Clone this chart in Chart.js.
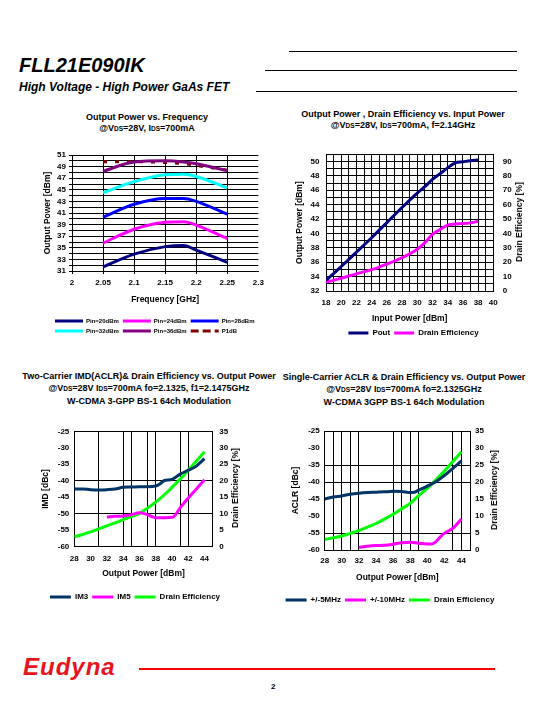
<!DOCTYPE html>
<html><head><meta charset="utf-8">
<script src="https://cdn.jsdelivr.net/npm/chart.js@4.4.1/dist/chart.umd.min.js"></script>
<style>
html,body{margin:0;padding:0;background:#fff;width:540px;height:720px;overflow:hidden;}
body{position:relative;font-family:'Liberation Sans',Arial,sans-serif;color:#000;}
.abs{position:absolute;white-space:nowrap;}
.hl{position:absolute;height:0;border-top:1px solid #000;}
.ttl{position:absolute;width:300px;text-align:center;font-weight:bold;font-size:9px;line-height:11px;white-space:nowrap;}
.ttl3{line-height:12px;}
.sb{font-size:6.5px;}
.rt{position:absolute;white-space:nowrap;font:bold 8.5px/10px 'Liberation Sans',Arial,sans-serif;transform:translate(-50%,-50%) rotate(-90deg);}
canvas{position:absolute;}
</style></head>
<body>
<div class="abs" style="left:19px;top:55px;font:italic bold 20px/20px 'Liberation Sans',Arial,sans-serif;">FLL21E090IK</div>
<div class="abs" style="left:19px;top:81px;font:italic bold 12px/12px 'Liberation Sans',Arial,sans-serif;">High Voltage - High Power GaAs FET</div>
<div class="hl" style="left:289px;top:51px;width:228px;"></div>
<div class="hl" style="left:265px;top:70px;width:252px;"></div>
<div class="hl" style="left:256px;top:91px;width:261px;"></div>

<div class="ttl" style="left:-3px;top:112px;">Output Power vs. Frequency<br>@V<span class="sb">DS</span>=28V, I<span class="sb">DS</span>=700mA</div>
<div class="ttl" style="left:253px;top:109px;">Output Power , Drain Efficiency vs. Input Power<br>@V<span class="sb">DS</span>=28V, I<span class="sb">DS</span>=700mA, f=2.14GHz</div>
<div class="ttl ttl3" style="left:-1px;top:370px;">Two-Carrier IMD(ACLR)&amp; Drain Efficiency vs. Output Power<br>@V<span class="sb">DS</span>=28V I<span class="sb">DS</span>=700mA fo=2.1325, f1=2.1475GHz<br>W-CDMA 3-GPP BS-1 64ch Modulation</div>
<div class="ttl ttl3" style="left:254px;top:371px;">Single-Carrier ACLR &amp; Drain Efficiency vs. Output Power<br>@V<span class="sb">DS</span>=28V I<span class="sb">DS</span>=700mA fo=2.1325GHz<br>W-CDMA 3GPP BS-1 64ch Modulation</div>

<canvas id="c1" width="260" height="199" style="left:10px;top:145px;width:260px;height:199px;"></canvas>
<canvas id="c2" width="260" height="207" style="left:280px;top:140px;width:260px;height:207px;"></canvas>
<canvas id="c3" width="260" height="191" style="left:20px;top:420px;width:260px;height:191px;"></canvas>
<canvas id="c4" width="260" height="194" style="left:280px;top:420px;width:260px;height:194px;"></canvas>

<div class="rt" style="left:519px;top:222px;">Drain Efficiency [%]</div>
<div class="rt" style="left:235px;top:488px;">Drain Efficiency [%]</div>
<div class="rt" style="left:494px;top:490px;">Drain Efficiency [%]</div>

<div class="abs" style="left:23px;top:655px;font:italic bold 24px/24px 'Liberation Sans',Arial,sans-serif;color:#e8141c;letter-spacing:1px;">Eudyna</div>
<div class="abs" style="left:139px;top:668px;width:356px;height:2px;background:#ff0000;"></div>
<div class="abs" style="left:271px;top:682px;font:bold 8px/9px 'Liberation Sans',Arial,sans-serif;">2</div>

<script>
// ---------- Chart 1: Output Power vs. Frequency ----------
const freqGHz = [2.05, 2.10, 2.15, 2.18, 2.20, 2.25];
const pin20 = [31.7, 33.9, 35.2, 35.4, 34.6, 32.5];
const pin24 = [35.8, 38.2, 39.4, 39.5, 38.9, 36.6];
const pin28 = [40.3, 42.5, 43.5, 43.5, 43.0, 40.8];
const pin32 = [44.5, 46.4, 47.6, 47.7, 47.3, 45.3];
const pin36 = [48.2, 49.8, 50.0, 49.8, 49.5, 48.3];
const p1dB  = [49.85, 49.85, 49.7, 49.5, 49.2, 48.4];
const freqTicks = [2, 2.05, 2.1, 2.15, 2.2, 2.25, 2.3];
const freqTickLabels = ['2', '2.05', '2.1', '2.15', '2.2', '2.25', '2.3'];
const freqGrid = [2, 2.05, 2.1, 2.15, 2.2, 2.25];
const pout1Ticks = [31,32,33,34,35,36,37,38,39,40,41,42,43,44,45,46,47,48,49,50,51];
const pout1Labels = [31,33,35,37,39,41,43,45,47,49,51];

// ---------- Chart 2: Pout, Drain Efficiency vs. Input Power ----------
const pinDbm = [18,19,20,22,24,26,28,30,31,32,33,34,35,36,37,38];
const poutDbm = [33.5,34.4,35.4,37.4,39.4,41.5,43.6,45.6,46.5,47.5,48.3,49.1,49.8,49.95,50.1,50.2];
const drainEff2 = [6.2,7.4,8.9,11.9,14.8,18.7,23.1,29.0,33.6,39.3,42.7,45.7,46.6,46.8,47.3,48.4];
const pin2Ticks = [18,19,20,21,22,23,24,25,26,27,28,29,30,31,32,33,34,35,36,37,38,39,40];
const pin2Labels = [18,20,22,24,26,28,30,32,34,36,38,40];
const pout2Ticks = [32,33,34,35,36,37,38,39,40,41,42,43,44,45,46,47,48,49,50,51];
const pout2Labels = [32,34,36,38,40,42,44,46,48,50];
const eff2Ticks = [0,10,20,30,40,50,60,70,80,90];

// ---------- Chart 3: Two-Carrier IMD ----------
const pout3 = [28,29,30,31,32,33,34,35,36,37,38,38.5,39,40,41,42,43,44];
const im3 = [-42.5,-42.5,-42.7,-42.8,-42.7,-42.5,-42.0,-41.9,-41.8,-41.8,-41.6,-41.0,-40.0,-39.6,-38.0,-36.8,-35.5,-33.3];
const pout3b = [32,33,34,35,36,37,38,39,40,40.3,41,42,43,44];
const im5 = [-51.0,-50.8,-50.7,-50.3,-49.7,-50.3,-51.2,-51.2,-51.1,-50.7,-48.2,-45.2,-42.5,-39.7];
const pout3c = [28,29,30,31,32,33,34,35,36,37,38,39,40,41,42,43,44];
const drainEff3 = [3.0,3.7,4.5,5.4,6.3,7.2,8.2,9.1,10.1,11.7,13.5,15.6,18.0,20.5,23.2,26.0,28.8];
const x3Labels = [28,30,32,34,36,38,40,42,44];
const x3Grid = [28,31,34,35,37,38,41,42,45];
const imdTicks = [-60,-55,-50,-45,-40,-35,-30,-25];
const imdGrid = [-60,-50,-40,-25];
const effTicks = [0,5,10,15,20,25,30,35];

// ---------- Chart 4: Single-Carrier ACLR ----------
const pout4 = [28,29,30,31,32,33,34,35,36,37,38,38.5,39,40,41,42,43,44];
const aclr5 = [-45.0,-44.4,-44.1,-43.6,-43.3,-43.1,-43.0,-42.9,-42.75,-42.8,-43.1,-43.0,-42.4,-41.2,-39.9,-38.1,-36.0,-33.8];
const pout4b = [32,33,34,35,36,37,38,39,40,40.5,41,41.5,42,43,44];
const aclr10 = [-59.2,-58.9,-58.7,-58.6,-58.3,-57.9,-57.7,-58.0,-58.2,-58.2,-57.6,-56.2,-55.1,-53.6,-50.9];
const pout4c = [28,29,30,31,32,33,34,35,36,37,38,39,40,41,42,43,44];
const drainEff4 = [3.1,3.6,4.1,4.9,5.7,6.7,7.8,9.1,10.5,12.1,13.7,16.0,18.1,20.6,23.2,26.0,28.9];
const x4Labels = [28,30,32,34,36,38,40,42,44];
const x4Grid = [28,29,30,31,32,36,37,38,39,43,44,45];
const aclrTicks = [-60,-55,-50,-45,-40,-35,-30,-25];
const aclrGrid = [-60,-55,-40,-35,-25];

// ---------- helpers ----------
Chart.defaults.font.family = "'Liberation Sans', Arial, sans-serif";
Chart.defaults.font.size = 8;
Chart.defaults.font.weight = 'bold';
Chart.defaults.color = '#000';

const pts = (xs, ys) => xs.map((x, i) => ({x: x, y: ys[i]}));
const setTicks = vals => s => { s.ticks = vals.map(v => ({value: v})); };
const labelIf = list => v => list.includes(v) ? String(v) : '';
const gridIf = list => c => (c.tick && list.includes(c.tick.value)) ? '#000' : 'rgba(0,0,0,0)';
const fixW = w => s => { s.width = w; };
const fixH = h => s => { s.height = h; };
const union = (a, b) => Array.from(new Set(a.concat(b))).sort((p, q) => p - q);
const shift = dx => ({ id: 'legendShift', afterLayout(chart) { if (chart.legend) { chart.legend.left += dx; chart.legend.right += dx; } } });
function ds(label, xs, ys, color, axis, extra) {
  return Object.assign({label: label, data: pts(xs, ys), borderColor: color, backgroundColor: color,
    borderWidth: 3, pointRadius: 0, pointHoverRadius: 0, cubicInterpolationMode: 'monotone', fill: false, yAxisID: axis || 'y'}, extra || {});
}
const axTitle = (text, pad) => ({display: true, text: text, font: {size: 8.5, weight: 'bold'}, color: '#000', padding: pad});
const base = {responsive: false, animation: false, devicePixelRatio: 1, events: []};

// ---------- Chart 1 ----------
new Chart(document.getElementById('c1'), {
  type: 'line',
  data: {datasets: [
    ds('Pin=20dBm', freqGHz, pin20, '#000080'),
    ds('Pin=24dBm', freqGHz, pin24, '#ff00ff'),
    ds('Pin=28dBm', freqGHz, pin28, '#0000ff'),
    ds('Pin=32dBm', freqGHz, pin32, '#00ffff'),
    ds('Pin=36dBm', freqGHz, pin36, '#800080'),
    ds('P1dB', freqGHz, p1dB, '#800000', 'y', {borderDash: [4, 8]})
  ]},
  options: Object.assign({}, base, {
    layout: {padding: {left: 32, right: 11.7, top: 10, bottom: 0}},
    scales: {
      x: {type: 'linear', min: 2, max: 2.3, afterBuildTicks: setTicks(freqTicks), afterFit: fixH(43),
          ticks: {autoSkip: false, maxRotation: 0, padding: 4, callback: (v, i) => freqTickLabels[i]},
          grid: {color: gridIf(freqGrid), lineWidth: 1, drawTicks: true, tickLength: 3},
          border: {display: true, color: '#000', width: 1},
          title: axTitle('Frequency [GHz]', {top: 0, bottom: 9.6})},
      y: {type: 'linear', min: 31, max: 51, afterBuildTicks: setTicks(pout1Ticks), afterFit: fixW(30),
          ticks: {autoSkip: false, padding: 3, callback: labelIf(pout1Labels)},
          grid: {color: '#000', lineWidth: 1, drawTicks: true, tickLength: 3},
          border: {display: true, color: '#000', width: 1},
          title: axTitle('Output Power [dBm]', {top: 0.7, bottom: 0})}
    },
    plugins: {
      legend: {position: 'bottom', align: 'start', labels: {boxWidth: 28, boxHeight: 0, padding: 4, color: '#000', font: {size: 6, weight: 'bold'}}},
      tooltip: {enabled: false}
    }
  }),
  plugins: [shift(9)]
});

// ---------- Chart 2 ----------
new Chart(document.getElementById('c2'), {
  type: 'line',
  data: {datasets: [
    ds('Pout', pinDbm, poutDbm, '#000080', 'y'),
    ds('Drain Efficiency', pinDbm, drainEff2, '#ff00ff', 'y2')
  ]},
  options: Object.assign({}, base, {
    layout: {padding: {left: 14, right: 14, top: 12, bottom: 0}},
    scales: {
      x: {type: 'linear', min: 18, max: 40, afterBuildTicks: setTicks(pin2Ticks), afterFit: fixH(34),
          ticks: {autoSkip: false, maxRotation: 0, padding: 6.9, callback: labelIf(pin2Labels)},
          grid: {color: '#000', lineWidth: 1, drawTicks: false},
          border: {display: true, color: '#000', width: 1},
          title: axTitle('Input Power [dBm]', {top: 0, bottom: 1.6})},
      y: {type: 'linear', position: 'left', min: 32, max: 51, afterBuildTicks: setTicks(pout2Ticks), afterFit: fixW(32),
          ticks: {autoSkip: false, padding: 6.5, callback: labelIf(pout2Labels)},
          grid: {color: '#000', lineWidth: 1, drawTicks: false},
          border: {display: true, color: '#000', width: 1},
          title: axTitle('Output Power [dBm]', {top: 0.9, bottom: 0})},
      y2: {type: 'linear', position: 'right', min: 0, max: 95, afterBuildTicks: setTicks(eff2Ticks), afterFit: fixW(32.7),
          ticks: {autoSkip: false, padding: 9.4, callback: v => String(v)},
          grid: {display: false, drawTicks: false},
          border: {display: true, color: '#000', width: 1}}
    },
    plugins: {
      legend: {position: 'bottom', align: 'center', labels: {boxWidth: 20, boxHeight: 0, padding: 4, color: '#000', font: {size: 8, weight: 'bold'}}},
      tooltip: {enabled: false}
    }
  }),
  plugins: [shift(3.5)]
});

// ---------- Chart 3 ----------
new Chart(document.getElementById('c3'), {
  type: 'line',
  data: {datasets: [
    ds('IM3', pout3, im3, '#003366', 'y'),
    ds('IM5', pout3b, im5, '#ff00ff', 'y'),
    ds('Drain Efficiency', pout3c, drainEff3, '#00ff00', 'y2')
  ]},
  options: Object.assign({}, base, {
    layout: {padding: {left: 20, right: 40, top: 10, bottom: 0}},
    scales: {
      x: {type: 'linear', min: 28, max: 45, afterBuildTicks: setTicks(union(x3Labels, x3Grid)), afterFit: fixH(42.3),
          ticks: {autoSkip: false, maxRotation: 0, padding: 6.8, callback: labelIf(x3Labels)},
          grid: {color: gridIf(x3Grid), lineWidth: 1, drawTicks: false},
          border: {display: true, color: '#000', width: 1},
          title: axTitle('Output Power [dBm]', {top: 0, bottom: 10.6})},
      y: {type: 'linear', position: 'left', min: -60, max: -25, afterBuildTicks: setTicks(imdTicks), afterFit: fixW(34.3),
          ticks: {autoSkip: false, padding: 5, callback: v => String(v)},
          grid: {color: gridIf(imdGrid), lineWidth: 1, drawTicks: false},
          border: {display: true, color: '#000', width: 1},
          title: axTitle('IMD [dBc]', {top: 0.9, bottom: 0})},
      y2: {type: 'linear', position: 'right', min: 0, max: 35, afterBuildTicks: setTicks(effTicks), afterFit: fixW(27.3),
          ticks: {autoSkip: false, padding: 6.5, callback: v => String(v)},
          grid: {display: false, drawTicks: false},
          border: {display: true, color: '#000', width: 1}}
    },
    plugins: {
      legend: {position: 'bottom', align: 'center', labels: {boxWidth: 21, boxHeight: 0, padding: 4, color: '#000', font: {size: 8, weight: 'bold'}}},
      tooltip: {enabled: false}
    }
  }),
  plugins: [shift(-5)]
});

// ---------- Chart 4 ----------
new Chart(document.getElementById('c4'), {
  type: 'line',
  data: {datasets: [
    ds('+/-5MHz', pout4, aclr5, '#003366', 'y'),
    ds('+/-10MHz', pout4b, aclr10, '#ff00ff', 'y'),
    ds('Drain Efficiency', pout4c, drainEff4, '#00ff00', 'y2')
  ]},
  options: Object.assign({}, base, {
    layout: {padding: {left: 10, right: 20, top: 11, bottom: 0}},
    scales: {
      x: {type: 'linear', min: 28, max: 45, afterBuildTicks: setTicks(union(x4Labels, x4Grid)), afterFit: fixH(42),
          ticks: {autoSkip: false, maxRotation: 0, padding: 6, callback: labelIf(x4Labels)},
          grid: {color: gridIf(x4Grid), lineWidth: 1, drawTicks: false},
          border: {display: true, color: '#000', width: 1},
          title: axTitle('Output Power [dBm]', {top: 0, bottom: 8.9})},
      y: {type: 'linear', position: 'left', min: -60, max: -25, afterBuildTicks: setTicks(aclrTicks), afterFit: fixW(34.7),
          ticks: {autoSkip: false, padding: 5, callback: v => String(v)},
          grid: {color: gridIf(aclrGrid), lineWidth: 1, drawTicks: false},
          border: {display: true, color: '#000', width: 1},
          title: axTitle('ACLR [dBc]', {top: 0.9, bottom: 0})},
      y2: {type: 'linear', position: 'right', min: 0, max: 35, afterBuildTicks: setTicks(effTicks), afterFit: fixW(50),
          ticks: {autoSkip: false, padding: 5, callback: v => String(v)},
          grid: {display: false, drawTicks: false},
          border: {display: true, color: '#000', width: 1}}
    },
    plugins: {
      legend: {position: 'bottom', align: 'center', labels: {boxWidth: 21, boxHeight: 0, padding: 4, color: '#000', font: {size: 8, weight: 'bold'}}},
      tooltip: {enabled: false}
    }
  }),
  plugins: [shift(-15)]
});
</script>
</body></html>
